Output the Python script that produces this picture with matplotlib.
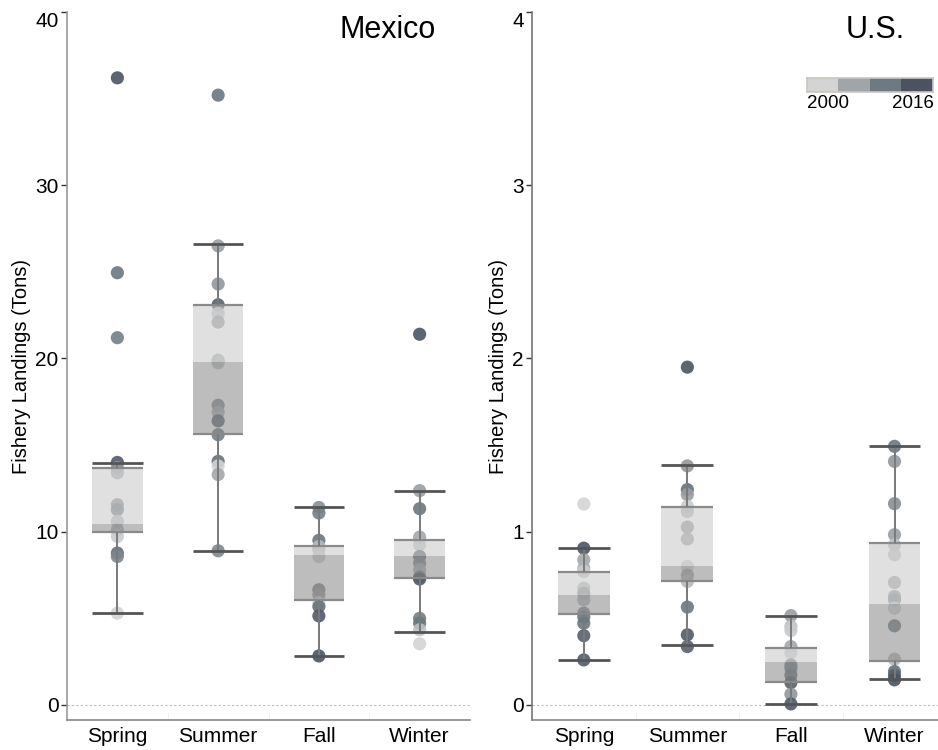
import numpy as np
import matplotlib
matplotlib.use("Agg")
import matplotlib.pyplot as plt
from matplotlib.colors import LinearSegmentedColormap, ListedColormap

plt.rcParams['font.family'] = ['Liberation Sans', 'DejaVu Sans']

seasons = ["Spring", "Summer", "Fall", "Winter"]
year_first, year_last = 2000, 2016

# Mexico landings (tons) by season, with the year of each observation
mx_spring = [36.2, 24.95, 21.2, 14.0, 13.7, 13.4, 11.56, 11.27, 10.6, 10.1, 9.73, 8.77, 8.57, 5.3]
mx_spring_years = [2016, 2011, 2010, 2015, 2007, 2003, 2006, 2008, 2002, 2004, 2001, 2012, 2009, 2000]
mx_summer = [35.2, 26.5, 24.3, 23.1, 22.6, 22.1, 19.9, 19.75, 17.3, 16.9, 16.4, 15.6, 14.06, 13.8, 13.3, 8.9]
mx_summer_years = [2011, 2006, 2007, 2014, 2001, 2005, 2003, 2002, 2008, 2004, 2013, 2010, 2012, 2000, 2005, 2009]
mx_fall = [11.4, 11.08, 9.5, 9.15, 8.96, 8.57, 6.65, 6.36, 5.88, 5.68, 5.14, 2.83]
mx_fall_years = [2008, 2010, 2011, 2003, 2002, 2001, 2009, 2006, 2000, 2012, 2015, 2016]
mx_winter = [21.4, 12.37, 11.33, 9.69, 9.25, 8.57, 8.19, 7.8, 7.4, 7.27, 5.0, 4.72, 4.34, 3.53]
mx_winter_years = [2016, 2006, 2011, 2005, 2001, 2012, 2008, 2004, 2009, 2015, 2010, 2011, 2002, 2000]

# Mexico box statistics
mx_q1 = [9.98, 15.65, 6.07, 7.32]
mx_med = [10.46, 19.8, 8.67, 8.57]
mx_q3 = [13.7, 23.1, 9.19, 9.54]
mx_lo = [5.3, 8.9, 2.83, 4.24]
mx_hi = [13.97, 26.6, 11.43, 12.35]

# U.S. landings (tons) by season
us_spring = [1.16, 0.905, 0.838, 0.79, 0.77, 0.674, 0.645, 0.607, 0.53, 0.507, 0.472, 0.4, 0.26]
us_spring_years = [2000, 2016, 2005, 2004, 2001, 2002, 2006, 2003, 2008, 2010, 2011, 2014, 2015]
us_summer = [1.95, 1.38, 1.243, 1.214, 1.146, 1.117, 1.027, 0.958, 0.8, 0.75, 0.713, 0.565, 0.405, 0.337]
us_summer_years = [2016, 2007, 2012, 2006, 2001, 2002, 2005, 2004, 2000, 2005, 2003, 2011, 2015, 2014]
us_fall = [0.516, 0.453, 0.43, 0.337, 0.302, 0.231, 0.212, 0.173, 0.129, 0.062, 0.006]
us_fall_years = [2006, 2002, 2001, 2005, 2000, 2008, 2009, 2011, 2014, 2007, 2015]
us_winter = [1.493, 1.406, 1.162, 0.983, 0.925, 0.867, 0.707, 0.626, 0.607, 0.559, 0.457, 0.264, 0.193, 0.17, 0.145]
us_winter_years = [2011, 2007, 2008, 2006, 2002, 2001, 2004, 2005, 2006, 2000, 2010, 2003, 2012, 2014, 2016]

# U.S. box statistics
us_q1 = [0.526, 0.717, 0.135, 0.256]
us_med = [0.632, 0.8, 0.25, 0.584]
us_q3 = [0.767, 1.143, 0.328, 0.935]
us_lo = [0.26, 0.345, 0.006, 0.15]
us_hi = [0.905, 1.383, 0.516, 1.495]

legend_colors = ["#d4d4d4", "#a0a5a8", "#6d7a82", "#4b5363"]
year_cmap = LinearSegmentedColormap.from_list("years", legend_colors)

W, H = 938, 750
fig = plt.figure(figsize=(W / 100, H / 100), dpi=100)


def px_axes(x0, x1, y0, y1):
    return fig.add_axes([x0 / W, 1 - y1 / H, (x1 - x0) / W, (y1 - y0) / H])


def draw_panel(ax, groups, years, q1, med, q3, lo, hi, ymax, title, xright, title_inset):
    ax.set_xlim(-0.5, xright)
    ax.set_ylim(-ymax * 0.0217, ymax)
    ax.axhline(0, color="#bbbbbb", lw=0.8, ls=(0, (2, 2)), zorder=1)
    half = 0.25
    for i, (vals, yrs) in enumerate(zip(groups, years)):
        c = year_cmap((np.array(yrs) - year_first) / (year_last - year_first))
        ax.scatter(np.full(len(vals), i), vals, s=90, c=c, alpha=0.9,
                   edgecolors="none", zorder=2)
    x = np.arange(len(groups))
    ax.bar(x, np.array(med) - np.array(q1), bottom=q1, width=2 * half,
           color="#878787", alpha=0.55, zorder=3, linewidth=0)
    ax.bar(x, np.array(q3) - np.array(med), bottom=med, width=2 * half,
           color="#c7c7c7", alpha=0.55, zorder=3, linewidth=0)
    ax.hlines(q1, x - half, x + half, color="#8a8a8a", lw=1.6, zorder=4)
    ax.hlines(q3, x - half, x + half, color="#8a8a8a", lw=1.6, zorder=4)
    ax.vlines(x, lo, q1, color="#7a7a7a", lw=1.4, zorder=4)
    ax.vlines(x, q3, hi, color="#7a7a7a", lw=1.4, zorder=4)
    ax.hlines(lo, x - half, x + half, color="#555555", lw=2.0, zorder=4)
    ax.hlines(hi, x - half, x + half, color="#555555", lw=2.0, zorder=4)

    for s in ("top", "right"):
        ax.spines[s].set_visible(False)
    ax.spines["left"].set_color("#999999")
    ax.spines["bottom"].set_color("#888888")
    ax.spines["left"].set_linewidth(1.2)
    ax.spines["bottom"].set_linewidth(1.2)

    ax.set_xticks(x)
    ax.set_xticklabels(seasons, fontsize=15)
    ax.tick_params(axis="x", length=0, pad=5)
    ax.set_xticks(x[:-1] + 0.5, minor=True)
    ax.tick_params(axis="x", which="minor", length=5, color="#eeeeee", direction="in")

    ticks = np.linspace(0, ymax, 5)
    ax.set_yticks(ticks)
    ax.set_yticklabels([f"{t:g}" for t in ticks], fontsize=15)
    ax.tick_params(axis="y", length=4, width=1, color="#333333", pad=2)
    ax.get_yticklabels()[-1].set_verticalalignment("top")
    ax.set_ylabel("Fishery Landings (Tons)", fontsize=14.5, labelpad=3)

    bbox = ax.get_position()
    width_px = bbox.width * W
    ax.text(1 - title_inset / width_px, 0.975, title, transform=ax.transAxes,
            ha="right", va="center", fontsize=22)


ax1 = px_axes(67, 470, 12, 720)
draw_panel(ax1, [mx_spring, mx_summer, mx_fall, mx_winter],
           [mx_spring_years, mx_summer_years, mx_fall_years, mx_winter_years],
           mx_q1, mx_med, mx_q3, mx_lo, mx_hi, 40, "Mexico", 3.5, 34)

ax2 = px_axes(532, 938, 12, 720)
draw_panel(ax2, [us_spring, us_summer, us_fall, us_winter],
           [us_spring_years, us_summer_years, us_fall_years, us_winter_years],
           us_q1, us_med, us_q3, us_lo, us_hi, 4, "U.S.", 3.42, 33)
ax2.spines["left"].set_color("#777777")

# year colour key
kax = px_axes(807, 933, 78, 92)
kax.imshow(np.arange(4)[None, :], cmap=ListedColormap(legend_colors),
           aspect="auto", extent=(0, 4, 0, 1))
kax.set_xticks([])
kax.set_yticks([])
for s in kax.spines.values():
    s.set_color("#c8c8c0")
    s.set_linewidth(1.2)
fig.text(807 / W, 1 - 103 / H, str(year_first), ha="left", va="center", fontsize=13.5)
fig.text(934 / W, 1 - 103 / H, str(year_last), ha="right", va="center", fontsize=13.5)

fig.savefig("out.png", dpi=100)
